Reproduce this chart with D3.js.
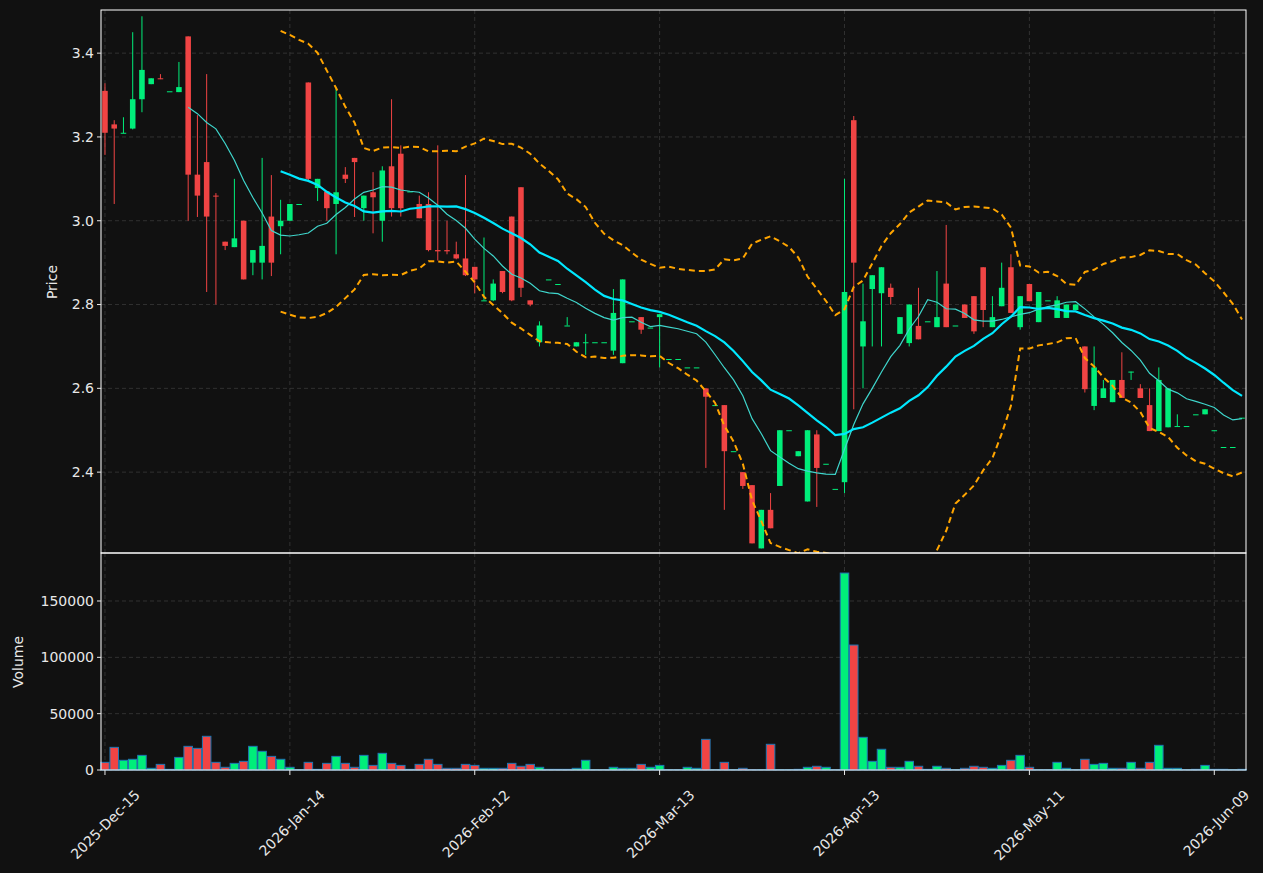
<!DOCTYPE html>
<html><head><meta charset="utf-8">
<script src="https://cdn.jsdelivr.net/npm/d3@7"></script>
<style>body{margin:0;background:#111111;}svg{display:block;}</style>
</head><body><svg id="c" width="1263" height="873"></svg>
<script>
const opens  = [3.31,3.23,3.21,3.22,3.29,3.326,3.34,3.309,3.307,3.44,3.11,3.14,3.06,2.95,2.937,3.0,2.90,2.90,3.01,2.987,
3.0,3.04,3.33,3.078,3.07,3.04,3.11,3.15,3.03,3.068,3.0,3.13,3.16,3.07,3.04,3.04,2.93,2.93,2.92,2.91,
2.89,2.81,2.81,2.88,3.01,3.08,2.81,2.71,2.86,2.849,2.75,2.70,2.71,2.71,2.71,2.69,2.66,2.76,2.77,2.745,
2.77,2.67,2.67,2.65,2.65,2.60,2.56,2.56,2.45,2.40,2.369,2.218,2.31,2.367,2.50,2.438,2.33,2.49,2.42,2.36,
2.376,3.24,2.70,2.837,2.827,2.84,2.73,2.708,2.749,2.76,2.746,2.85,2.75,2.80,2.82,2.889,2.746,2.796,2.889,2.746,
2.849,2.758,2.81,2.768,2.768,2.787,2.70,2.558,2.577,2.567,2.62,2.64,2.60,2.56,2.498,2.507,2.51,2.51,2.538,2.538,
2.50,2.46,2.46,2.53];
const highs  = [3.328,3.24,3.247,3.45,3.488,3.34,3.35,3.309,3.379,3.44,3.252,3.35,3.066,2.95,3.10,3.0,2.93,3.15,3.109,3.05,
3.04,3.04,3.33,3.10,3.07,3.316,3.128,3.15,3.06,3.116,3.13,3.29,3.18,3.07,3.06,3.068,3.18,3.0,2.95,3.109,
2.89,2.96,2.86,2.88,3.01,3.08,2.81,2.76,2.86,2.849,2.77,2.71,2.73,2.71,2.71,2.837,2.86,2.76,2.77,2.745,
2.777,2.67,2.67,2.65,2.65,2.60,2.56,2.56,2.45,2.40,2.369,2.31,2.35,2.50,2.50,2.45,2.50,2.50,2.42,2.36,
3.10,3.25,2.85,2.87,2.889,2.85,2.77,2.80,2.84,2.76,2.88,2.99,2.75,2.80,2.82,2.889,2.82,2.90,2.92,2.82,
2.849,2.83,2.81,2.82,2.80,2.80,2.70,2.70,2.62,2.62,2.686,2.64,2.61,2.60,2.65,2.60,2.538,2.51,2.538,2.55,
2.50,2.46,2.46,2.53];
const lows   = [3.157,3.04,3.209,3.218,3.259,3.326,3.338,3.309,3.307,3.0,3.009,2.83,2.80,2.93,2.937,2.86,2.87,2.86,2.868,2.92,
3.0,3.04,3.097,3.047,3.0,2.92,3.09,3.009,3.0,2.97,2.95,3.01,3.01,3.07,3.006,2.927,2.905,2.92,2.908,2.868,
2.827,2.81,2.808,2.827,2.808,2.818,2.796,2.70,2.86,2.849,2.75,2.70,2.68,2.71,2.71,2.68,2.66,2.76,2.73,2.745,
2.65,2.67,2.67,2.65,2.65,2.41,2.56,2.31,2.45,2.36,2.23,2.218,2.266,2.367,2.50,2.438,2.33,2.317,2.42,2.36,
2.35,2.55,2.60,2.70,2.70,2.80,2.73,2.70,2.717,2.76,2.746,2.746,2.75,2.768,2.73,2.746,2.746,2.796,2.78,2.74,
2.808,2.758,2.81,2.768,2.768,2.787,2.59,2.548,2.577,2.567,2.577,2.62,2.577,2.498,2.498,2.507,2.51,2.51,2.538,2.538,
2.50,2.46,2.46,2.53];
const closes = [3.21,3.22,3.21,3.29,3.36,3.34,3.338,3.309,3.319,3.11,3.06,3.01,3.058,2.94,2.958,2.86,2.93,2.94,2.90,3.0,
3.04,3.04,3.10,3.10,3.03,3.068,3.10,3.14,3.06,3.056,3.12,3.03,3.03,3.07,3.006,2.93,2.927,2.927,2.91,2.87,
2.86,2.81,2.85,2.83,2.81,2.84,2.80,2.75,2.86,2.849,2.75,2.71,2.71,2.71,2.71,2.78,2.86,2.76,2.74,2.745,
2.777,2.67,2.67,2.65,2.65,2.58,2.56,2.45,2.45,2.367,2.23,2.31,2.266,2.50,2.50,2.45,2.50,2.41,2.42,2.36,
2.83,2.90,2.76,2.87,2.889,2.818,2.77,2.80,2.717,2.76,2.77,2.746,2.75,2.768,2.736,2.787,2.77,2.84,2.78,2.82,
2.808,2.83,2.81,2.81,2.80,2.80,2.598,2.65,2.60,2.62,2.577,2.64,2.577,2.498,2.62,2.60,2.51,2.51,2.538,2.55,
2.50,2.46,2.46,2.53];
const volumes = [6800,20100,8600,9500,13000,1500,5000,600,11200,21000,19200,29900,6800,2400,5900,7700,21000,16600,12100,9500,
2400,300,6800,600,5900,12100,5900,2400,13000,4100,14800,5900,4100,600,5000,9500,5000,1500,1500,5000,
4100,1500,1500,1500,5900,3300,5000,2400,600,600,600,1500,8600,300,300,2400,1500,1500,5000,2400,
4100,300,300,2400,1500,27200,300,6800,300,1500,300,300,22800,300,300,600,2400,3300,2400,300,
174800,110900,29000,7700,18400,2400,2400,7700,3300,600,3300,1500,300,1500,3300,2400,1500,4100,8600,13000,
2400,300,300,6800,1500,300,9500,5000,5900,1500,1500,6800,1500,6800,21900,1500,1500,300,600,4100,
600,600,300,600];
const tickIdx = [0,20,40,60,80,100,120];
const tickLabels = ["2025-Dec-15","2026-Jan-14","2026-Feb-12","2026-Mar-13","2026-Apr-13","2026-May-11","2026-Jun-09"];
const priceTicks = [2.4,2.6,2.8,3.0,3.2,3.4];
const volTicks = [0,50000,100000,150000];

const n = closes.length;
function rolling(w){ return closes.map((_,i)=> i<w-1?null: d3.mean(closes.slice(i-w+1,i+1))); }
const ma10 = rolling(10), ma20 = rolling(20);
const bbU = closes.map((_,i)=>{ if(i<19) return null; const s=closes.slice(i-19,i+1); const m=d3.mean(s); const sd=Math.sqrt(d3.mean(s.map(v=>(v-m)*(v-m)))); return m+2*sd;});
const bbL = closes.map((_,i)=>{ if(i<19) return null; const s=closes.slice(i-19,i+1); const m=d3.mean(s); const sd=Math.sqrt(d3.mean(s.map(v=>(v-m)*(v-m)))); return m-2*sd;});

const UP="#00ee7a", DN="#f04444", TXT="#e8e8e8", GRID="#3a3a3a";
const svg=d3.select("#c");
svg.append("rect").attr("width",1263).attr("height",873).attr("fill","#111111");
const L=101,R=1246, pT=10,pB=553, vT=553,vB=770;
const x=d3.scaleLinear().domain([-0.43,123.43]).range([L,R]);
const step=x(1)-x(0);
const y=d3.scaleLinear().domain([2.207,3.503]).range([pB,pT]);
const yv=d3.scaleLinear().domain([0,192600]).range([vB,vT]);
const font="DejaVu Sans";

svg.append("defs").append("clipPath").attr("id","pc").append("rect").attr("x",L).attr("y",pT).attr("width",R-L).attr("height",pB-pT);

function grid(top,bot,ys,sc){
  const g=svg.append("g").attr("stroke",GRID).attr("stroke-dasharray","4,3").attr("stroke-width",0.8);
  tickIdx.forEach(i=>g.append("line").attr("x1",x(i)).attr("x2",x(i)).attr("y1",top).attr("y2",bot));
  ys.forEach(v=>g.append("line").attr("x1",L).attr("x2",R).attr("y1",sc(v)).attr("y2",sc(v)));
}
grid(pT,pB,priceTicks,y); grid(vT,vB,volTicks,yv);

const pg=svg.append("g").attr("clip-path","url(#pc)");
const idx=d3.range(n);
idx.forEach(i=>{
  const c=closes[i]>=opens[i]?UP:DN;
  pg.append("line").attr("x1",x(i)).attr("x2",x(i)).attr("y1",y(highs[i])).attr("y2",y(lows[i])).attr("stroke",c).attr("stroke-width",1);
  const t=y(Math.max(opens[i],closes[i])), b=y(Math.min(opens[i],closes[i]));
  pg.append("rect").attr("x",x(i)-step*0.3).attr("width",step*0.6).attr("y",t).attr("height",Math.max(b-t,1)).attr("fill",c);
});
function line(arr,color,w,dash){
  const gen=d3.line().defined(d=>arr[d]!=null).x(d=>x(d)).y(d=>y(arr[d]));
  const p=pg.append("path").datum(idx).attr("d",gen).attr("fill","none").attr("stroke",color).attr("stroke-width",w);
  if(dash) p.attr("stroke-dasharray",dash);
}
line(ma10,"#3fd6cc",1.2);
line(ma20,"#00e8ff",2.2);
line(bbU,"#ffa500",2,"6,4");
line(bbL,"#ffa500",2,"6,4");

idx.forEach(i=>{
  const c=closes[i]>=opens[i]?UP:DN;
  svg.append("rect").attr("x",x(i)-step*0.46).attr("width",step*0.92).attr("y",yv(volumes[i])).attr("height",vB-yv(volumes[i])).attr("fill",c).attr("stroke","#1f77b4").attr("stroke-width",1);
});

[[pT,pB],[vT,vB]].forEach(([a,b])=>svg.append("rect").attr("x",L).attr("y",a).attr("width",R-L).attr("height",b-a).attr("fill","none").attr("stroke","#ffffff").attr("stroke-width",1));

function yaxis(sc,ticks,fmt){
  ticks.forEach(v=>{
    svg.append("line").attr("x1",L-4).attr("x2",L).attr("y1",sc(v)).attr("y2",sc(v)).attr("stroke",TXT);
    svg.append("text").attr("x",L-7).attr("y",sc(v)).attr("dy","0.35em").attr("text-anchor","end").attr("fill",TXT).attr("font-family",font).attr("font-size",14).text(fmt(v));
  });
}
yaxis(y,priceTicks,d=>d.toFixed(1));
yaxis(yv,volTicks,d=>String(d));
svg.append("text").attr("transform","translate(57,282) rotate(-90)").attr("text-anchor","middle").attr("fill",TXT).attr("font-family",font).attr("font-size",14).text("Price");
svg.append("text").attr("transform","translate(23,662) rotate(-90)").attr("text-anchor","middle").attr("fill",TXT).attr("font-family",font).attr("font-size",14).text("Volume");
tickIdx.forEach((ti,k)=>{
  svg.append("line").attr("x1",x(ti)).attr("x2",x(ti)).attr("y1",vB).attr("y2",vB+5).attr("stroke",TXT);
  svg.append("text").attr("transform",`translate(${x(ti)+29},${vB+19}) rotate(-45)`).attr("text-anchor","end").attr("dy","0.7em").attr("fill",TXT).attr("font-family",font).attr("font-size",14).text(tickLabels[k]);
});
</script></body></html>
